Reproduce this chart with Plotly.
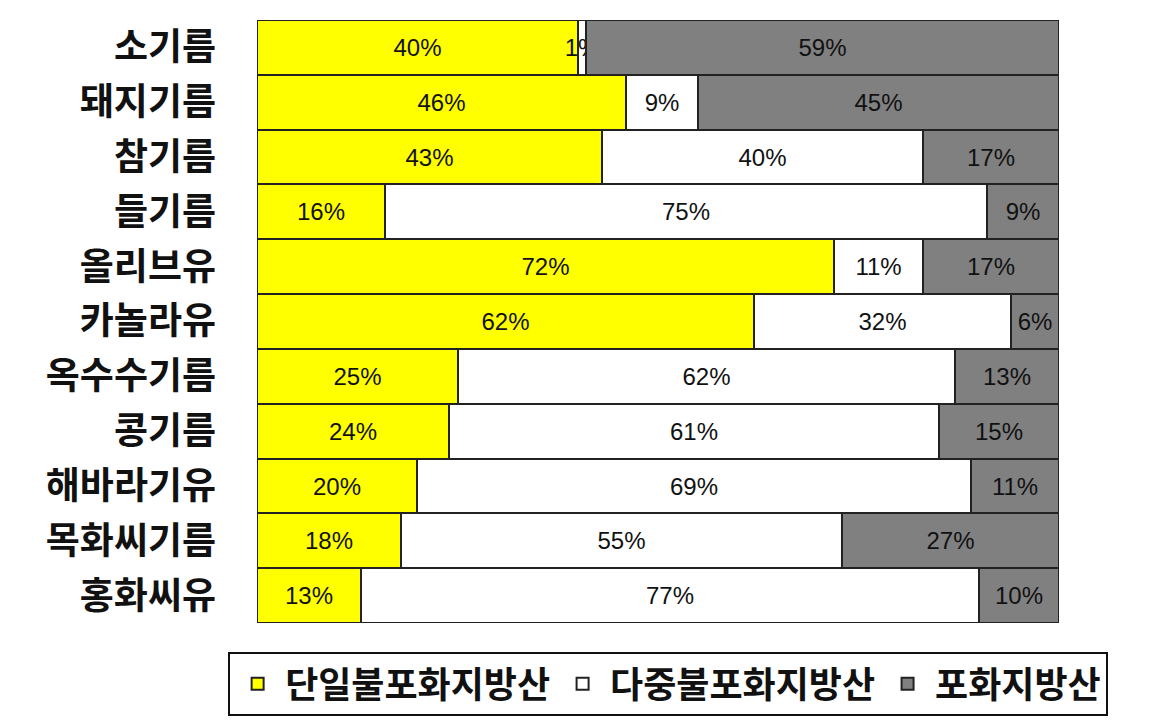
import plotly.graph_objects as go

categories = ["소기름", "돼지기름", "참기름", "들기름", "올리브유", "카놀라유",
              "옥수수기름", "콩기름", "해바라기유", "목화씨기름", "홍화씨유"]
series_names = ["단일불포화지방산", "다중불포화지방산", "포화지방산"]
mono = [40, 46, 43, 16, 72, 62, 25, 24, 20, 18, 13]
poly = [1, 9, 40, 75, 11, 32, 62, 61, 69, 55, 77]
sat = [59, 45, 17, 9, 17, 6, 13, 15, 11, 27, 10]
colors = ["#FFFF00", "#FFFFFF", "#808080"]

KFONT = "Noto Sans CJK KR"
fig = go.Figure()
for name, vals, col in zip(series_names, [mono, poly, sat], colors):
    fig.add_trace(go.Bar(
        y=categories, x=vals, name=name, orientation="h",
        marker=dict(color=col, line=dict(color="#222222", width=2)),
        text=[f"{v}%" for v in vals], textposition="inside", textangle=0,
        insidetextanchor="middle", constraintext="none",
        textfont=dict(family="Liberation Sans, Arial", size=24, color="#111111"),
        hoverinfo="skip",
    ))

fig.update_layout(
    barmode="stack", bargap=0,
    width=1154, height=722,
    margin=dict(l=257, r=95, t=20, b=99, autoexpand=False),
    plot_bgcolor="white", paper_bgcolor="white",
    showlegend=True,
    legend=dict(orientation="h", traceorder="normal",
                x=-0.036, xanchor="left", y=-0.048, yanchor="top",
                bordercolor="#111111", borderwidth=2,
                font=dict(family=KFONT, size=36, color="#111111", weight="bold"),
                itemwidth=45, tracegroupgap=0),
    xaxis=dict(range=[0, 100], visible=False, fixedrange=True),
    yaxis=dict(autorange="reversed", showgrid=False, zeroline=False,
               tickfont=dict(family=KFONT, size=37, color="#111111", weight="bold"),
               ticklabelstandoff=40, showline=False),
)

fig.write_html("out.html")
